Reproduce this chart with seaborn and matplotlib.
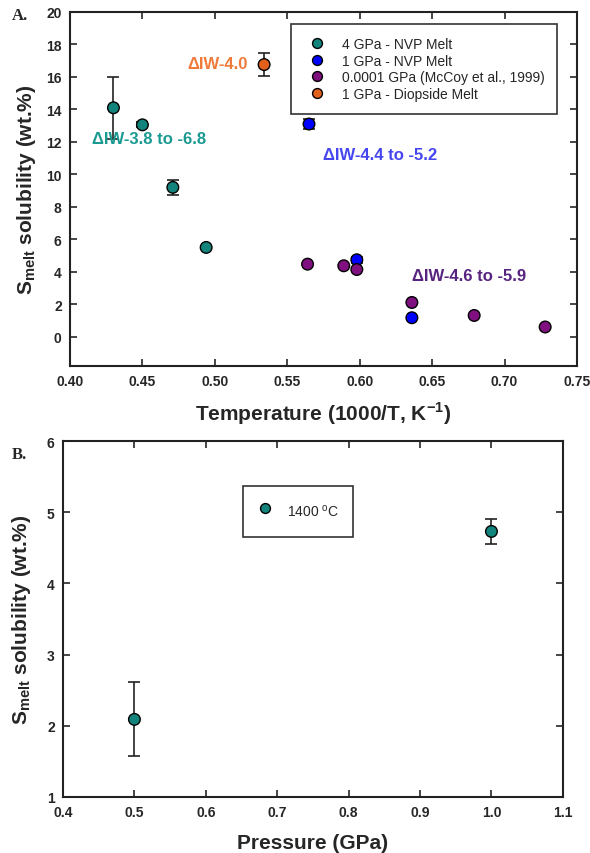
import numpy as np
import pandas as pd
import matplotlib
from matplotlib import pyplot as plt
import seaborn as sns

sns.set_theme(style="ticks")
matplotlib.rcParams['font.family'] = ['Liberation Sans', 'DejaVu Sans']
matplotlib.rcParams['mathtext.fontset'] = 'custom'
matplotlib.rcParams['mathtext.rm'] = 'Liberation Sans'
matplotlib.rcParams['mathtext.bf'] = 'Liberation Sans:bold'
matplotlib.rcParams['axes.linewidth'] = 1.5
matplotlib.rcParams['xtick.direction'] = 'in'
matplotlib.rcParams['ytick.direction'] = 'in'
matplotlib.rcParams['xtick.top'] = True
matplotlib.rcParams['ytick.right'] = True

# Panel A data
nvp4_x = [0.430, 0.450, 0.471, 0.494]
nvp4_y = [14.1, 13.05, 9.2, 5.5]
nvp4_err = [1.9, 0.15, 0.45, 0.0]
nvp1_x = [0.565, 0.598, 0.636]
nvp1_y = [13.1, 4.74, 1.17]
nvp1_err = [0.3, 0.2, 0.0]
mccoy_x = [0.564, 0.589, 0.598, 0.636, 0.679, 0.728]
mccoy_y = [4.47, 4.37, 4.14, 2.11, 1.31, 0.6]
diop_x = [0.534]
diop_y = [16.76]
diop_err = [0.7]

groups = ["4 GPa - NVP Melt", "1 GPa - NVP Melt",
          "0.0001 GPa (McCoy et al., 1999)", "1 GPa - Diopside Melt"]
colors = ["#13847c", "#0000ff", "#80107f", "#e2601c"]

# Panel B data
press_x = [0.5, 1.0]
press_y = [2.09, 4.73]
press_err = [0.52, 0.18]

dfA = pd.concat([
    pd.DataFrame({"x": nvp4_x, "y": nvp4_y, "group": groups[0]}),
    pd.DataFrame({"x": nvp1_x, "y": nvp1_y, "group": groups[1]}),
    pd.DataFrame({"x": mccoy_x, "y": mccoy_y, "group": groups[2]}),
    pd.DataFrame({"x": diop_x, "y": diop_y, "group": groups[3]}),
], ignore_index=True)
dfB = pd.DataFrame({"x": press_x, "y": press_y, "group": "1400 $^{\\rm o}$C"})

fig = plt.figure(figsize=(5.9, 8.54), dpi=100)
axA = fig.add_axes([0.1186, 0.5703, 0.8594, 0.4145])
axB = fig.add_axes([0.1068, 0.0656, 0.8472, 0.4168])

# error bars first, markers on top
for xs, ys, es in [(nvp4_x, nvp4_y, nvp4_err), (nvp1_x, nvp1_y, nvp1_err),
                   (diop_x, diop_y, diop_err)]:
    axA.errorbar(xs, ys, yerr=es, fmt='none', ecolor='#222222',
                 elinewidth=1.2, capsize=4, capthick=1.2, zorder=1)
sns.scatterplot(data=dfA, x="x", y="y", hue="group", hue_order=groups,
                palette=colors, s=70, edgecolor='black', linewidth=1.0,
                ax=axA, zorder=3)

axA.set_xlim(0.40, 0.75)
axA.set_ylim(-1.8, 20)
axA.set_xticks(np.arange(0.40, 0.76, 0.05))
axA.set_yticks(np.arange(0, 21, 2))
axA.xaxis.set_major_formatter(matplotlib.ticker.FormatStrFormatter('%.2f'))
axA.set_xlabel("Temperature (1000/T, K$^{\\mathbf{-1}}$)", fontsize=15,
               fontweight='bold', labelpad=8)
axA.set_ylabel("S$_{\\mathbf{melt}}$ solubility (wt.%)", fontsize=15,
               fontweight='bold', labelpad=6)

axA.text(0.523, 16.8, "\u0394IW-4.0", color="#f07a3a", fontsize=12,
         fontweight='bold', ha='right', va='center')
axA.text(0.4155, 12.2, "\u0394IW-3.8 to -6.8", color="#1b9a92", fontsize=12,
         fontweight='bold', ha='left', va='center')
axA.text(0.5745, 11.25, "\u0394IW-4.4 to -5.2", color="#4646f0", fontsize=12,
         fontweight='bold', ha='left', va='center')
axA.text(0.636, 3.8, "\u0394IW-4.6 to -5.9", color="#56237f", fontsize=12,
         fontweight='bold', ha='left', va='center')

legA = axA.legend(loc='upper right', bbox_to_anchor=(0.975, 0.985),
                  frameon=True, fancybox=False, edgecolor='black',
                  fontsize=10, handletextpad=0.8, borderpad=0.9,
                  labelspacing=0.2, markerscale=0.85)
legA.get_frame().set_linewidth(1.2)

axB.errorbar(press_x, press_y, yerr=press_err, fmt='none', ecolor='#222222',
             elinewidth=1.2, capsize=4, capthick=1.2, zorder=1)
sns.scatterplot(data=dfB, x="x", y="y", hue="group", palette=[colors[0]],
                s=70, edgecolor='black', linewidth=1.0, ax=axB, zorder=3)
axB.set_xlim(0.4, 1.1)
axB.set_ylim(1, 6)
axB.set_xticks(np.arange(0.4, 1.11, 0.1))
axB.set_yticks([1, 2, 3, 4, 5, 6])
axB.xaxis.set_major_formatter(matplotlib.ticker.FormatStrFormatter('%.1f'))
axB.set_xlabel("Pressure (GPa)", fontsize=15, fontweight='bold', labelpad=10)
axB.set_ylabel("S$_{\\mathbf{melt}}$ solubility (wt.%)", fontsize=15,
               fontweight='bold', labelpad=10)
legB = axB.legend(loc='upper left', bbox_to_anchor=(0.346, 0.893),
                  frameon=True, fancybox=False, edgecolor='black',
                  fontsize=10, borderpad=1.0, handletextpad=1.0,
                  handlelength=1.2, handleheight=2.2, markerscale=0.85)
legB.get_frame().set_linewidth(1.2)

for ax in (axA, axB):
    ax.tick_params(labelsize=10, width=1.2, length=5, pad=6)
    for lab in ax.get_xticklabels() + ax.get_yticklabels():
        lab.set_fontweight('bold')
    for sp in ax.spines.values():
        sp.set_color('#222222')

fig.text(0.02, 0.977, "A.", fontsize=12, fontweight='bold',
         family='Liberation Serif')
fig.text(0.02, 0.462, "B.", fontsize=12, fontweight='bold',
         family='Liberation Serif')

fig.savefig("out.png", dpi=100)
